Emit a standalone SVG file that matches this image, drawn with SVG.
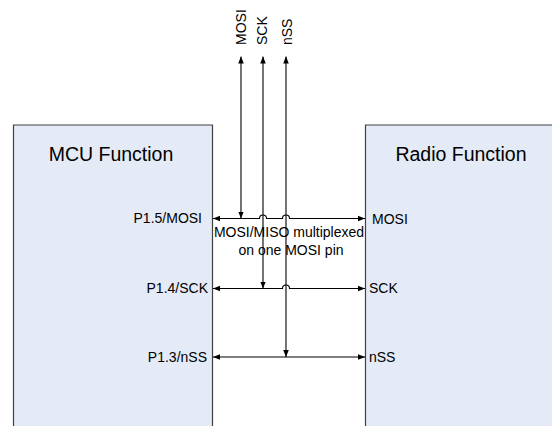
<svg xmlns="http://www.w3.org/2000/svg" width="552" height="426" viewBox="0 0 552 426">
<style>
.fillbox{fill:#E5EBF6;stroke:none}
.edge{fill:none;stroke:#404040;stroke-width:1.2}
.title{font-family:"Liberation Sans",Arial,sans-serif;font-size:19.5px;fill:#000}
.lbl{font-family:"Liberation Sans",Arial,sans-serif;font-size:14px;fill:#000}
.wire{fill:none;stroke:#000;stroke-width:1.1}
</style>
<defs>
<marker id="ah" viewBox="0 0 10 10" refX="10" refY="5" markerWidth="7" markerHeight="7" markerUnits="userSpaceOnUse" orient="auto-start-reverse">
<path d="M0,1 L10,5 L0,9 z" fill="#000"/>
</marker>
</defs>
<g id="mcu">
<rect class="fillbox" x="13.5" y="125" width="199" height="305"/>
<path class="edge" d="M13.5,430 V125 H212.5 V430"/>
<text class="title" x="111" y="161" text-anchor="middle">MCU Function</text>
<text class="lbl" x="202" y="223" text-anchor="end">P1.5/MOSI</text>
<text class="lbl" x="208" y="293" text-anchor="end">P1.4/SCK</text>
<text class="lbl" x="207" y="362" text-anchor="end">P1.3/nSS</text>
</g>
<g id="radio">
<rect class="fillbox" x="365.5" y="125" width="190" height="305"/>
<path class="edge" d="M556,125 H365.5 V430"/>
<text class="title" x="461" y="161" text-anchor="middle">Radio Function</text>
<text class="lbl" x="372" y="224">MOSI</text>
<text class="lbl" x="369" y="293">SCK</text>
<text class="lbl" x="369" y="362">nSS</text>
</g>
<g id="ext-signals">
<text class="lbl" transform="translate(245.5,45) rotate(-90)">MOSI</text>
<text class="lbl" transform="translate(267,45) rotate(-90)">SCK</text>
<text class="lbl" transform="translate(291.5,45) rotate(-90)">nSS</text>
</g>
<g id="note">
<text class="lbl" x="289" y="237" text-anchor="middle">MOSI/MISO multiplexed</text>
<text class="lbl" x="291" y="255" text-anchor="middle">on one MOSI pin</text>
</g>
<g id="connectors">
<path class="wire" d="M213,218.5 H259.5 A3.5,3.5 0 0 1 266.5,218.5 H282.5 A3.5,3.5 0 0 1 289.5,218.5 H365" marker-start="url(#ah)" marker-end="url(#ah)"/>
<path class="wire" d="M213,288.5 H282.5 A3.5,3.5 0 0 1 289.5,288.5 H365" marker-start="url(#ah)" marker-end="url(#ah)"/>
<path class="wire" d="M213,357 H365" marker-start="url(#ah)" marker-end="url(#ah)"/>
<path class="wire" d="M241,56.5 V218.5" marker-start="url(#ah)" marker-end="url(#ah)"/>
<path class="wire" d="M263,56.5 V288.5" marker-start="url(#ah)" marker-end="url(#ah)"/>
<path class="wire" d="M286,56.5 V357" marker-start="url(#ah)" marker-end="url(#ah)"/>
</g>
</svg>
